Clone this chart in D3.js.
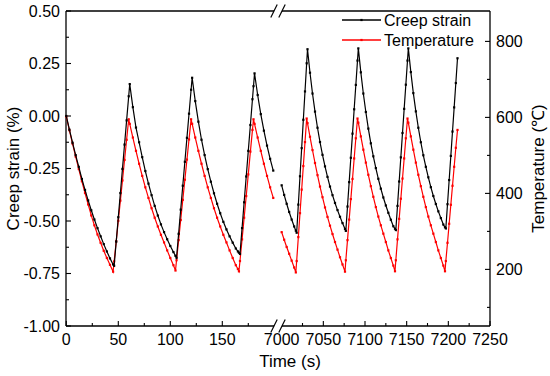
<!DOCTYPE html>
<html>
<head>
<meta charset="utf-8">
<script src="https://cdn.jsdelivr.net/npm/d3@7"></script>
<style>
  body { margin: 0; background: #fff; }
  svg text { font-family: "Liberation Sans", Arial, sans-serif; fill: #000; }
</style>
</head>
<body>
<div class="drawingArea"></div>
<script>
// Left part of the broken time axis (s)
var timeLeft = [0, 3, 6, 9, 12, 15, 18, 21, 24, 27, 30, 33, 36, 39, 42, 45, 46,
    48, 50, 52, 54, 56, 58, 60, 61,
    64, 67, 70, 73, 76, 79, 82, 85, 88, 91, 94, 97, 100, 103, 105, 106,
    108, 110, 112, 114, 116, 118, 120, 121,
    124, 127, 130, 133, 136, 139, 142, 145, 148, 151, 154, 157, 160, 163, 165, 166, 167,
    169, 171, 173, 175, 177, 179, 180, 181,
    184, 187, 190, 193, 196, 199];
var strainLeft = [0.000, -0.065, -0.127, -0.186, -0.242, -0.300, -0.352, -0.402, -0.449, -0.493, -0.534, -0.573, -0.610, -0.645, -0.678, -0.707, -0.713,
    -0.598, -0.482, -0.367, -0.252, -0.136, -0.021, 0.094, 0.152,
    0.042, -0.055, -0.125, -0.196, -0.262, -0.322, -0.377, -0.428, -0.474, -0.516, -0.553, -0.587, -0.619, -0.648, -0.666, -0.675,
    -0.561, -0.446, -0.332, -0.218, -0.104, 0.011, 0.125, 0.182,
    0.071, -0.027, -0.113, -0.186, -0.253, -0.313, -0.368, -0.418, -0.463, -0.504, -0.540, -0.573, -0.603, -0.631, -0.645, -0.651, -0.657,
    -0.534, -0.411, -0.288, -0.166, -0.043, 0.080, 0.142, 0.203,
    0.100, 0.009, -0.070, -0.141, -0.204, -0.260];
var tempLeft = [602, 566, 531, 497, 464, 432, 401, 371, 342, 316, 292, 270, 249, 230, 212, 194, 221,
    274, 328, 381, 434, 488, 541, 595, 583,
    547, 512, 478, 446, 416, 388, 361, 336, 313, 291, 271, 250, 230, 211, 197, 224,
    277, 330, 383, 436, 489, 542, 595, 583,
    547, 512, 478, 446, 416, 388, 361, 336, 313, 291, 271, 250, 230, 211, 201, 195, 222,
    279, 336, 393, 450, 510, 567, 595, 583,
    547, 512, 478, 446, 416, 388];

// Right part of the broken time axis (s)
var timeRight = [7000, 7003, 7006, 7009, 7012, 7015, 7017, 7018,
    7020, 7022, 7024, 7026, 7028, 7030, 7031,
    7034, 7037, 7040, 7043, 7046, 7049, 7052, 7055, 7058, 7061, 7064, 7067, 7070, 7073, 7076, 7077,
    7079, 7081, 7083, 7085, 7087, 7089, 7091, 7092,
    7095, 7098, 7101, 7104, 7107, 7110, 7113, 7116, 7119, 7122, 7125, 7128, 7131, 7134, 7136, 7137,
    7139, 7141, 7143, 7145, 7147, 7149, 7151, 7152,
    7155, 7158, 7161, 7164, 7167, 7170, 7173, 7176, 7179, 7182, 7185, 7188, 7191, 7194, 7196, 7197,
    7199, 7201, 7203, 7205, 7207, 7209, 7211];
var strainRight = [-0.330, -0.376, -0.418, -0.457, -0.493, -0.526, -0.546, -0.556,
    -0.422, -0.287, -0.153, -0.018, 0.117, 0.251, 0.318,
    0.206, 0.107, 0.021, -0.056, -0.124, -0.185, -0.240, -0.290, -0.336, -0.377, -0.414, -0.448, -0.480, -0.510, -0.538, -0.547,
    -0.431, -0.315, -0.199, -0.084, 0.032, 0.148, 0.264, 0.322,
    0.208, 0.107, 0.019, -0.060, -0.130, -0.192, -0.248, -0.299, -0.346, -0.388, -0.426, -0.461, -0.494, -0.525, -0.537, -0.543,
    -0.428, -0.312, -0.197, -0.081, 0.034, 0.149, 0.264, 0.322,
    0.209, 0.109, 0.022, -0.056, -0.125, -0.187, -0.242, -0.292, -0.339, -0.381, -0.419, -0.454, -0.486, -0.517, -0.530, -0.535,
    -0.420, -0.305, -0.190, -0.074, 0.041, 0.157, 0.275];
var tempRight = [298, 278, 259, 241, 223, 205, 192, 222,
    285, 348, 410, 472, 535, 597, 585,
    549, 514, 480, 448, 418, 390, 363, 338, 315, 293, 272, 252, 232, 213, 194, 224,
    277, 331, 385, 438, 492, 545, 597, 586,
    550, 515, 481, 449, 419, 391, 364, 339, 316, 294, 272, 250, 230, 210, 195, 224,
    279, 333, 386, 439, 492, 545, 597, 586,
    550, 515, 481, 449, 419, 391, 364, 339, 316, 294, 272, 250, 230, 210, 195, 222,
    270, 320, 370, 420, 470, 520, 567];

// Tick values
var xTicksLeft = [0, 50, 100, 150];
var xMinorLeft = [25, 75, 125, 175];
var xTicksRight = [7000, 7050, 7100, 7150, 7200, 7250];
var xMinorRight = [7025, 7075, 7125, 7175, 7225];
var strainTicks = [-1.00, -0.75, -0.50, -0.25, 0.00, 0.25, 0.50];
var strainMinor = [-0.875, -0.625, -0.375, -0.125, 0.125, 0.375];
var tempTicks = [200, 400, 600, 800];
var tempMinor = [100, 300, 500, 700];

var seriesNames = ["Creep strain", "Temperature"];
var seriesColors = ["#000000", "#ff0000"];

var width = 550;
var height = 376;

// Plot frame
var plotLeft = 66, plotRight = 490, plotTop = 11, plotBottom = 326;
var breakA = 274, breakB = 282;

var xLeft = d3.scaleLinear().domain([0, 50]).range([66.3, 118.3]);
var xRight = d3.scaleLinear().domain([7100, 7250]).range([365, 490]);
var y = d3.scaleLinear().domain([-1.0, 0.5]).range([plotBottom, plotTop]);
var yTemp = d3.scaleLinear().domain([51, 880]).range([plotBottom, plotTop]);

var svg = d3.select(".drawingArea").append("svg")
    .attr("width", width)
    .attr("height", height);

var axisStroke = 1.3;

//Frame lines
svg.append("line").attr("x1", plotLeft).attr("x2", plotLeft).attr("y1", plotTop).attr("y2", plotBottom)
    .attr("stroke", "#000").attr("stroke-width", axisStroke);
svg.append("line").attr("x1", plotRight).attr("x2", plotRight).attr("y1", plotTop).attr("y2", plotBottom)
    .attr("stroke", "#000").attr("stroke-width", axisStroke);
[plotTop, plotBottom].forEach(function (yy) {
    svg.append("line").attr("x1", plotLeft).attr("x2", breakA).attr("y1", yy).attr("y2", yy)
        .attr("stroke", "#000").attr("stroke-width", axisStroke);
    svg.append("line").attr("x1", breakB).attr("x2", plotRight).attr("y1", yy).attr("y2", yy)
        .attr("stroke", "#000").attr("stroke-width", axisStroke);
    // break marks
    [breakA, breakB].forEach(function (bx) {
        svg.append("line")
            .attr("x1", bx - 3.2).attr("y1", yy + 6.5)
            .attr("x2", bx + 3.2).attr("y2", yy - 6.5)
            .attr("stroke", "#000").attr("stroke-width", 1.2);
    });
});

//Ticks (inward)
function tick(x1, y1, x2, y2) {
    svg.append("line").attr("x1", x1).attr("y1", y1).attr("x2", x2).attr("y2", y2)
        .attr("stroke", "#000").attr("stroke-width", 1.1);
}
var major = 5, minor = 3;

xTicksLeft.forEach(function (d) { tick(xLeft(d), plotBottom, xLeft(d), plotBottom - major); });
xMinorLeft.forEach(function (d) { tick(xLeft(d), plotBottom, xLeft(d), plotBottom - minor); });
xTicksRight.forEach(function (d) { if (d > 7000) tick(xRight(d), plotBottom, xRight(d), plotBottom - major); });
xMinorRight.forEach(function (d) { tick(xRight(d), plotBottom, xRight(d), plotBottom - minor); });
strainTicks.forEach(function (d) { tick(plotLeft, y(d), plotLeft + major, y(d)); });
strainMinor.forEach(function (d) { tick(plotLeft, y(d), plotLeft + minor, y(d)); });
tempTicks.forEach(function (d) { tick(plotRight, yTemp(d), plotRight - major, yTemp(d)); });
tempMinor.forEach(function (d) { tick(plotRight, yTemp(d), plotRight - minor, yTemp(d)); });

//Tick labels
var fontSize = 16;
xTicksLeft.forEach(function (d) {
    svg.append("text").attr("x", xLeft(d)).attr("y", 345).attr("text-anchor", "middle")
        .style("font-size", fontSize + "px").text(d);
});
xTicksRight.forEach(function (d) {
    svg.append("text").attr("x", xRight(d)).attr("y", 345).attr("text-anchor", "middle")
        .style("font-size", fontSize + "px").text(d);
});
strainTicks.forEach(function (d) {
    svg.append("text").attr("x", plotLeft - 6).attr("y", y(d)).attr("dy", "0.36em")
        .attr("text-anchor", "end").style("font-size", fontSize + "px").text(d.toFixed(2));
});
tempTicks.forEach(function (d) {
    svg.append("text").attr("x", plotRight + 6).attr("y", yTemp(d)).attr("dy", "0.36em")
        .attr("text-anchor", "start").style("font-size", fontSize + "px").text(d);
});

//Axis titles
svg.append("text").attr("x", 290).attr("y", 367).attr("text-anchor", "middle")
    .style("font-size", "17px").text("Time (s)");
svg.append("text").attr("transform", "translate(19," + ((plotTop + plotBottom) / 2) + ") rotate(-90)")
    .attr("text-anchor", "middle").style("font-size", "17px").text("Creep strain (%)");
svg.append("text").attr("transform", "translate(544," + ((plotTop + plotBottom) / 2) + ") rotate(-90)")
    .attr("text-anchor", "middle").style("font-size", "17px").text("Temperature (\u2103)");

//Series
var markSize = 2.2;
function drawSeries(times, values, xs, ys, color) {
    var pts = times.map(function (t, i) { return [xs(t), ys(values[i])]; });
    svg.append("path")
        .datum(pts)
        .attr("d", d3.line())
        .attr("fill", "none")
        .attr("stroke", color)
        .attr("stroke-width", 1.2);
    svg.append("g").selectAll("rect")
        .data(pts)
        .enter()
        .append("rect")
        .attr("x", function (d) { return d[0] - markSize / 2; })
        .attr("y", function (d) { return d[1] - markSize / 2; })
        .attr("width", markSize)
        .attr("height", markSize)
        .attr("fill", color);
}

drawSeries(timeLeft, tempLeft, xLeft, yTemp, seriesColors[1]);
drawSeries(timeRight, tempRight, xRight, yTemp, seriesColors[1]);
drawSeries(timeLeft, strainLeft, xLeft, y, seriesColors[0]);
drawSeries(timeRight, strainRight, xRight, y, seriesColors[0]);

//Legend
seriesNames.forEach(function (name, i) {
    var ly = 20 + i * 20;
    svg.append("line").attr("x1", 342).attr("x2", 381).attr("y1", ly).attr("y2", ly)
        .attr("stroke", seriesColors[i]).attr("stroke-width", 1.3);
    svg.append("rect").attr("x", 361.5 - markSize / 2).attr("y", ly - markSize / 2)
        .attr("width", markSize).attr("height", markSize)
        .attr("fill", seriesColors[i]);
    svg.append("text").attr("x", 384).attr("y", ly).attr("dy", "0.36em")
        .style("font-size", "16px").text(name);
});
</script>
</body>
</html>
